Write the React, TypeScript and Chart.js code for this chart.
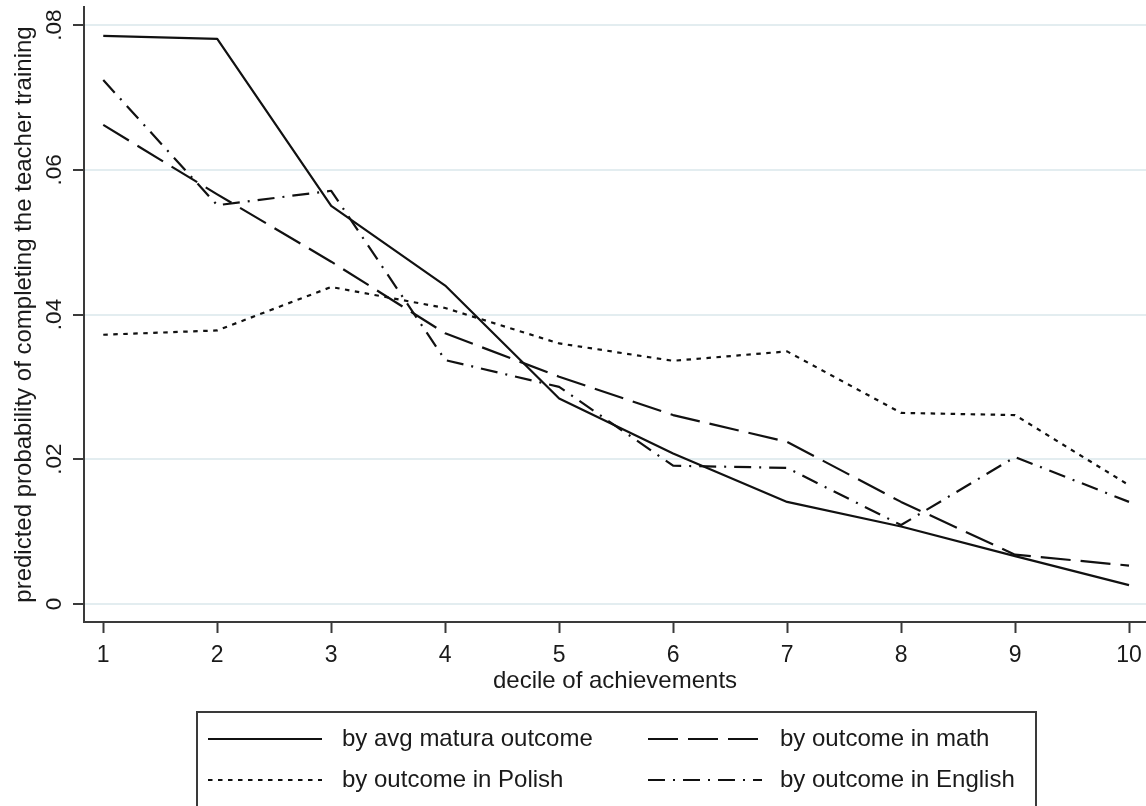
import React, { useEffect, useRef } from "react";
import { Chart, registerables } from "chart.js";

Chart.register(...registerables);

// ---- data ----
const deciles = [1, 2, 3, 4, 5, 6, 7, 8, 9, 10];
const avgMatura = [0.0785, 0.0781, 0.055, 0.044, 0.0284, 0.0208, 0.0141, 0.0107, 0.0066, 0.0026];
const mathOutcome = [0.0662, 0.0566, 0.0473, 0.0374, 0.0314, 0.0261, 0.0224, 0.0141, 0.0068, 0.0053];
const polishOutcome = [0.0372, 0.0378, 0.0438, 0.0409, 0.036, 0.0336, 0.0349, 0.0264, 0.0261, 0.0164];
const englishOutcome = [0.0724, 0.0551, 0.0571, 0.0337, 0.03, 0.0191, 0.0188, 0.0109, 0.0203, 0.0141];
const seriesLabels = [
  "by avg matura outcome",
  "by outcome in math",
  "by outcome in Polish",
  "by outcome in English",
];
const xTicks = [1, 2, 3, 4, 5, 6, 7, 8, 9, 10];
const yTicks = [0, 0.02, 0.04, 0.06, 0.08];
const yTickLabels = ["0", ".02", ".04", ".06", ".08"];
const xTitle = "decile of achievements";
const yTitle = "predicted probability of completing the teacher training";

const FONT = "'Liberation Sans', Arial, Helvetica, sans-serif";
const TEXT = "#1a1a1a";
const AXIS = "#3a3a3a";
const GRID = "#e3edf0";
const LINE = "#111111";

const dashSolid: number[] = [];
const dashLong = [30, 10];
const dashDot = [4.5, 5.5];
const dashDashDot = [17, 8, 2, 8];

const toPoints = (ys: number[]) => deciles.map((x, i) => ({ x, y: ys[i] }));

const yTickLabelPlugin = {
  id: "yTickLabels",
  afterDraw(chart: any) {
    const { ctx } = chart;
    const yScale = chart.scales.y;
    ctx.save();
    ctx.fillStyle = TEXT;
    ctx.font = `22.5px ${FONT}`;
    ctx.textAlign = "center";
    ctx.textBaseline = "middle";
    yTicks.forEach((v, i) => {
      const py = yScale.getPixelForValue(v);
      ctx.save();
      ctx.translate(55, py);
      ctx.rotate(-Math.PI / 2);
      ctx.fillText(yTickLabels[i], 0, 0);
      ctx.restore();
    });
    ctx.restore();
  },
};

const boxLegendPlugin = {
  id: "boxLegend",
  afterDraw(chart: any) {
    const { ctx } = chart;
    ctx.save();
    ctx.strokeStyle = AXIS;
    ctx.lineWidth = 2;
    ctx.setLineDash([]);
    ctx.strokeRect(197, 712, 839, 140);
    const sampleX = [208, 648];
    const sampleW = 114;
    const textX = [342, 780];
    const rowY = [739, 780];
    chart.data.datasets.forEach((ds: any, i: number) => {
      const col = i % 2;
      const row = Math.floor(i / 2);
      const y = rowY[row];
      ctx.beginPath();
      ctx.strokeStyle = ds.borderColor;
      ctx.lineWidth = ds.borderWidth;
      ctx.lineCap = "butt";
      ctx.setLineDash(ds.borderDash || []);
      ctx.moveTo(sampleX[col], y);
      ctx.lineTo(sampleX[col] + sampleW, y);
      ctx.stroke();
      ctx.setLineDash([]);
      ctx.fillStyle = TEXT;
      ctx.font = `24px ${FONT}`;
      ctx.textAlign = "left";
      ctx.textBaseline = "middle";
      ctx.fillText(ds.label, textX[col], y);
    });
    ctx.restore();
  },
};

export default function App() {
  const canvasRef = useRef<HTMLCanvasElement | null>(null);

  useEffect(() => {
    const canvas = canvasRef.current;
    if (!canvas) return;
    const mk = (i: number, ys: number[], dash: number[]) => ({
      label: seriesLabels[i],
      data: toPoints(ys),
      borderColor: LINE,
      borderWidth: 2.2,
      borderDash: dash,
      borderJoinStyle: "round" as const,
      pointRadius: 0,
      fill: false,
      tension: 0,
    });
    const chart = new Chart(canvas, {
      type: "line",
      data: {
        datasets: [
          mk(0, avgMatura, dashSolid),
          mk(1, mathOutcome, dashLong),
          mk(2, polishOutcome, dashDot),
          mk(3, englishOutcome, dashDashDot),
        ],
      },
      options: {
        animation: false,
        responsive: false,
        maintainAspectRatio: false,
        layout: { padding: { top: 7, right: 0, left: 0, bottom: 0 } },
        plugins: {
          legend: { display: false },
          tooltip: { enabled: false },
        },
        scales: {
          x: {
            type: "linear",
            min: 0.831,
            max: 10.149,
            afterBuildTicks: (scale: any) => {
              scale.ticks = xTicks.map((v) => ({ value: v }));
            },
            afterFit: (scale: any) => {
              scale.height = 184;
              scale.paddingLeft = 0;
              scale.paddingRight = 0;
            },
            grid: {
              drawOnChartArea: false,
              drawTicks: true,
              tickLength: 11,
              tickColor: AXIS,
              tickWidth: 2,
            },
            border: { display: true, color: AXIS, width: 2 },
            ticks: {
              color: TEXT,
              font: { family: FONT, size: 23 },
              padding: 9,
              maxRotation: 0,
              minRotation: 0,
              autoSkip: false,
              callback: (v: any) => String(v),
            },
            title: {
              display: true,
              text: xTitle,
              color: TEXT,
              font: { family: FONT, size: 24 },
              padding: { top: 0, bottom: 110.6 },
            },
          },
          y: {
            type: "linear",
            min: -0.0025,
            max: 0.0825,
            afterBuildTicks: (scale: any) => {
              scale.ticks = yTicks.map((v) => ({ value: v }));
            },
            afterFit: (scale: any) => {
              scale.width = 84;
              scale.paddingTop = 0;
              scale.paddingBottom = 0;
            },
            grid: {
              drawOnChartArea: true,
              color: GRID,
              lineWidth: 2,
              drawTicks: true,
              tickLength: 11,
              tickColor: AXIS,
              tickWidth: 2,
            },
            border: { display: true, color: AXIS, width: 2 },
            ticks: { display: false },
            title: {
              display: true,
              text: yTitle,
              color: TEXT,
              font: { family: FONT, size: 24 },
              padding: { top: 9.6, bottom: 0 },
            },
          },
        },
      },
      plugins: [yTickLabelPlugin, boxLegendPlugin],
    } as any);
    return () => chart.destroy();
  }, []);

  return (
    <div style={{ position: "fixed", left: 0, top: 0, width: 1146, height: 806, background: "#fff" }}>
      <canvas ref={canvasRef} width={1146} height={806} style={{ display: "block" }} />
    </div>
  );
}
